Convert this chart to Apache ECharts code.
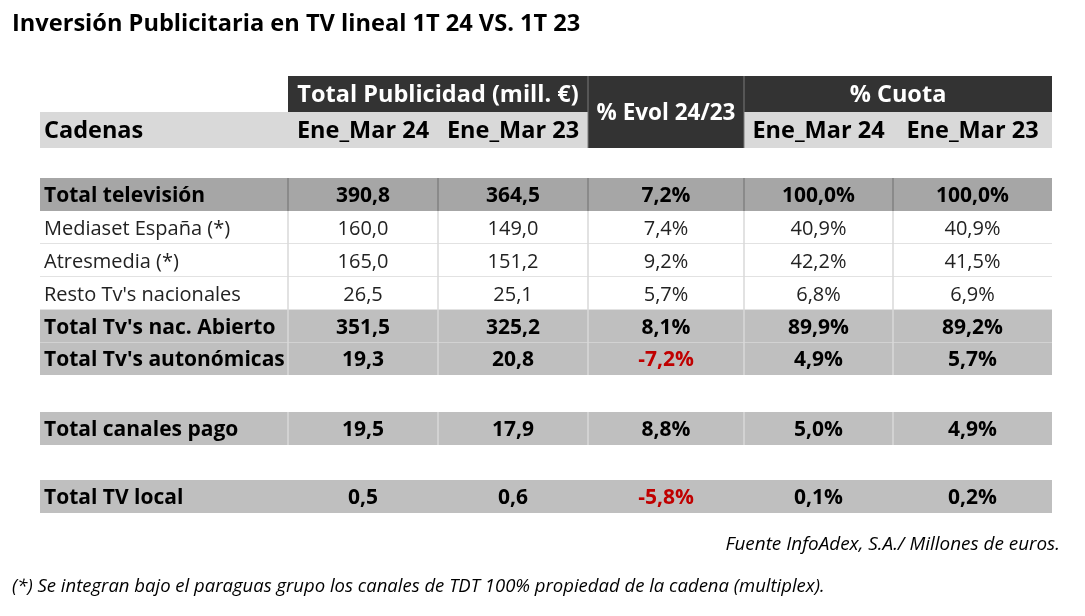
<!DOCTYPE html>
<html>
<head>
<meta charset="utf-8">
<script src="https://cdn.jsdelivr.net/npm/echarts@6/dist/echarts.min.js"></script>
<style>
  html, body { margin: 0; padding: 0; background: #fff; }
  #table { width: 1085px; height: 616px; }
</style>
</head>
<body>
<div id="table"></div>
<script>
// data
const cadenas = [
  "Total televisión",
  "Mediaset España (*)",
  "Atresmedia (*)",
  "Resto Tv's nacionales",
  "Total Tv's nac. Abierto",
  "Total Tv's autonómicas",
  "Total canales pago",
  "Total TV local",
];
const inv24 = [390.8, 160.0, 165.0, 26.5, 351.5, 19.3, 19.5, 0.5];
const inv23 = [364.5, 149.0, 151.2, 25.1, 325.2, 20.8, 17.9, 0.6];
const evol = [7.2, 7.4, 9.2, 5.7, 8.1, -7.2, 8.8, -5.8];
const cuota24 = [100.0, 40.9, 42.2, 6.8, 89.9, 4.9, 5.0, 0.1];
const cuota23 = [100.0, 40.9, 41.5, 6.9, 89.2, 5.7, 4.9, 0.2];
const periodos = ["Ene_Mar 24", "Ene_Mar 23"];

// layout (table units = px inside the grid)
const colWidths = [248, 150, 150, 156, 149, 159];
const colEdges = [0];
colWidths.forEach((w) => colEdges.push(colEdges[colEdges.length - 1] + w));
const tableW = colEdges[colEdges.length - 1];
const tableH = 437;
const rowTops = [102, 135, 168, 201, 234, 267, 336, 404];
const rowHeights = [33, 33, 33, 33, 33, 32, 33, 33];
const rowKinds = ["total", "detail", "detail", "detail", "sub", "sub", "sub", "local"];
const fills = { total: "#a6a6a6", detail: "#ffffff", sub: "#bfbfbf", local: "#bfbfbf" };
const lineColors = { total: "#808080", detail: "#d9d9d9", sub: "#d9d9d9", local: null };

const FONT = "'Open Sans', 'DejaVu Sans', sans-serif";
const fmt = (v) => v.toFixed(1).replace(".", ",");
const TEXT_DY = 1.5;

function txt(x, y, text, opts) {
  return {
    type: "text",
    silent: true,
    style: Object.assign({
      x: x, y: y + TEXT_DY, text: text,
      fill: "#000",
      font: "normal 20px " + FONT,
      align: "center", verticalAlign: "middle",
      textAlign: "center", textVerticalAlign: "middle",
    }, opts || {}),
  };
}

function rect(a, b, fill) {
  return {
    type: "rect", silent: true,
    shape: { x: a[0], y: a[1], width: b[0] - a[0], height: b[1] - a[1] },
    style: { fill: fill },
  };
}

function hline(a, b, y, color) {
  return {
    type: "line", silent: true,
    shape: { x1: a, y1: y, x2: b, y2: y },
    style: { stroke: color, lineWidth: 1.5 },
  };
}

function renderRow(params, api) {
  const i = api.value(0);
  const kind = rowKinds[i];
  const top = rowTops[i], h = rowHeights[i];
  const a = api.coord([0, top]);
  const b = api.coord([tableW, top + h]);
  const cy = (a[1] + b[1]) / 2;
  const children = [rect(a, b, fills[kind])];

  if (kind === "detail" || i === 4) {
    children.push(hline(a[0], b[0], b[1], "#d9d9d9"));
  }
  if (lineColors[kind]) {
    for (let k = 1; k < colEdges.length - 1; k++) {
      const x = api.coord([colEdges[k], top])[0];
      children.push({
        type: "line", silent: true,
        shape: { x1: x, y1: a[1], x2: x, y2: b[1] },
        style: { stroke: lineColors[kind], lineWidth: 1.5 },
      });
    }
  }

  const bold = kind !== "detail";
  const font = bold ? "bold 21px " + FONT : "normal 20px " + FONT;
  const color = bold ? "#000" : "#222";
  const cells = [
    fmt(inv24[i]), fmt(inv23[i]), fmt(evol[i]) + "%",
    fmt(cuota24[i]) + "%", fmt(cuota23[i]) + "%",
  ];
  children.push(txt(a[0] + 4, cy, cadenas[i], { font: font, fill: color, align: "left", textAlign: "left" }));
  cells.forEach((c, k) => {
    const cx = api.coord([(colEdges[k + 1] + colEdges[k + 2]) / 2, top])[0];
    const red = k === 2 && evol[i] < 0;
    children.push(txt(cx, cy, c, { font: font, fill: red ? "#c00000" : color }));
  });
  return { type: "group", children: children };
}

function renderHeader(params, api) {
  const c = (x, y) => api.coord([x, y]);
  const dark = "#333333", light = "#d9d9d9";
  const hfont = "bold 23.5px " + FONT;
  const mid = (k) => (colEdges[k] + colEdges[k + 1]) / 2;
  const children = [
    rect(c(0, 36), c(colEdges[3], 72), light),
    rect(c(colEdges[4], 36), c(tableW, 72), light),
    rect(c(colEdges[1], 0), c(colEdges[3], 36), dark),
    rect(c(colEdges[3], 0), c(colEdges[4], 72), dark),
    rect(c(colEdges[4], 0), c(tableW, 36), dark),
  ];
  [colEdges[3], colEdges[4]].forEach((xv) => {
    const p = c(xv, 0), q = c(xv, 72);
    children.push({
      type: "line", silent: true,
      shape: { x1: p[0], y1: p[1], x2: q[0], y2: q[1] },
      style: { stroke: "#7a7a7a", lineWidth: 1 },
    });
  });
  const y1 = (c(0, 0)[1] + c(0, 36)[1]) / 2;
  const y2 = (c(0, 36)[1] + c(0, 72)[1]) / 2;
  const yEvol = (c(0, 0)[1] + c(0, 72)[1]) / 2;
  children.push(txt((c(colEdges[1], 0)[0] + c(colEdges[3], 0)[0]) / 2, y1,
    "Total Publicidad (mill. €)", { font: hfont, fill: "#fff" }));
  children.push(txt(c(mid(3), 0)[0], yEvol, "% Evol 24/23", { font: "bold 22.5px " + FONT, fill: "#fff" }));
  children.push(txt((c(colEdges[4], 0)[0] + c(tableW, 0)[0]) / 2, y1,
    "% Cuota", { font: hfont, fill: "#fff" }));
  children.push(txt(c(0, 0)[0] + 4, y2, "Cadenas", { font: hfont, align: "left", textAlign: "left" }));
  [1, 2, 4, 5].forEach((k, j) => {
    children.push(txt(c(mid(k), 0)[0], y2, periodos[j % 2], { font: hfont }));
  });
  return { type: "group", children: children };
}

const chart = echarts.init(document.getElementById("table"), null, { renderer: "canvas" });

const italic = { fontFamily: FONT, fontStyle: "italic", fontWeight: "normal", fontSize: 18.5, color: "#000" };

chart.setOption({
  animation: false,
  backgroundColor: "#fff",
  title: [
    {
      text: "Inversión Publicitaria en TV lineal 1T 24 VS. 1T 23",
      left: 7, top: 7,
      textStyle: { fontFamily: FONT, fontWeight: "bold", fontSize: 23.6, color: "#000" },
    },
    {
      text: "Fuente InfoAdex, S.A./ Millones de euros.",
      right: 20, top: 530, textStyle: Object.assign({}, italic, { fontSize: 18.9 }),
    },
    {
      text: "(*) Se integran bajo el paraguas grupo los canales de TDT 100% propiedad de la cadena (multiplex).",
      left: 7, top: 572, textStyle: italic,
    },
  ],
  grid: { left: 40, top: 76, width: tableW, height: tableH },
  xAxis: { type: "value", min: 0, max: tableW, show: false },
  yAxis: { type: "value", min: 0, max: tableH, inverse: true, show: false },
  series: [
    { type: "custom", silent: true, renderItem: renderHeader, data: [[0, 0]], clip: false },
    { type: "custom", silent: true, renderItem: renderRow, data: cadenas.map((c, i) => [i, 0]), clip: false },
  ],
});
</script>
</body>
</html>
